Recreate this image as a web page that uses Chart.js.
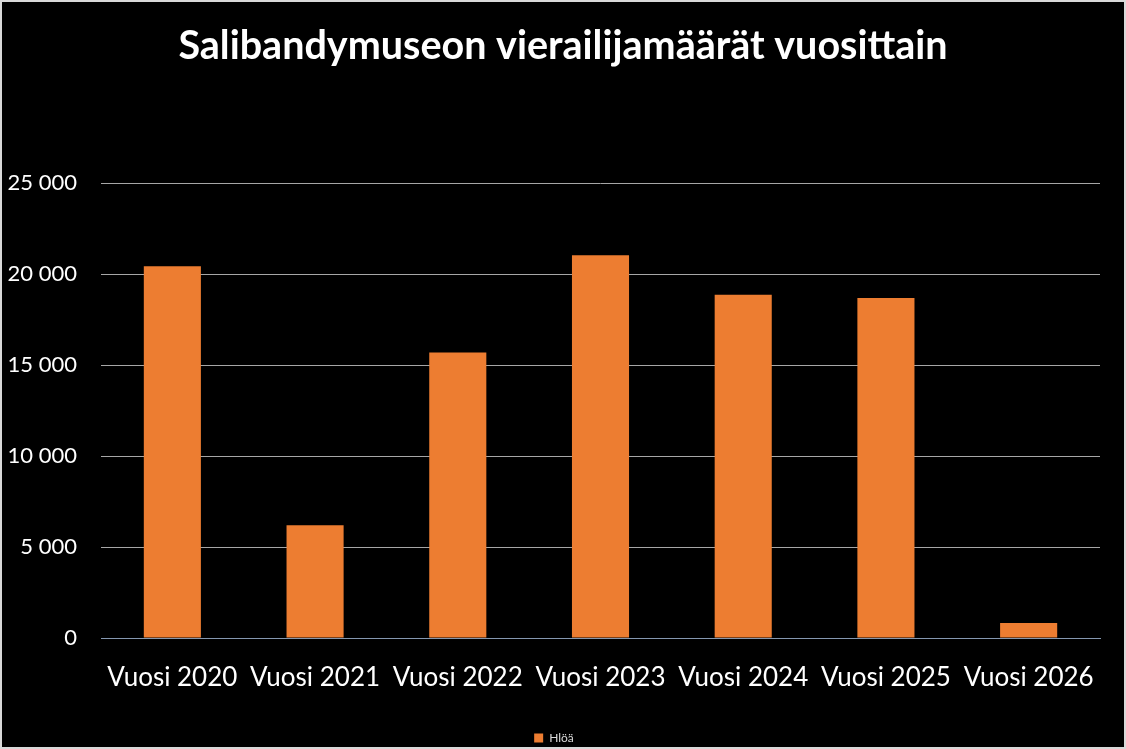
<!DOCTYPE html>
<html>
<head>
<meta charset="utf-8">
<script src="https://cdn.jsdelivr.net/npm/chart.js@4"></script>
<style>
  html, body { margin: 0; padding: 0; background: #d9d9d9; }
  #kehys { width: 1122px; height: 745px; margin: 2px; background: #000; }
</style>
</head>
<body>
<div id="kehys"><canvas id="kaavio" width="1122" height="745"></canvas></div>
<script>
const vuodet = ["Vuosi 2020", "Vuosi 2021", "Vuosi 2022", "Vuosi 2023", "Vuosi 2024", "Vuosi 2025", "Vuosi 2026"];
const kavijat = [20450, 6200, 15700, 21050, 18870, 18700, 830];
const sarjanNimi = "Hlöä";
const otsikko = "Salibandymuseon vierailijamäärät vuosittain";

const fontti = "Lato, 'Open Sans', sans-serif";

function muotoile(arvo) {
  return String(arvo).replace(/\B(?=(\d{3})+(?!\d))/g, " ");
}

// otsikko keskelle koko kuvaa, ei piirtoalueen mukaan
const keskitaOtsikko = {
  id: "keskitaOtsikko",
  afterLayout(chart) {
    if (chart.titleBlock) {
      chart.titleBlock.left = 0;
      chart.titleBlock.right = chart.width;
      chart.titleBlock.width = chart.width;
    }
  }
};

new Chart(document.getElementById("kaavio"), {
  type: "bar",
  data: {
    labels: vuodet,
    datasets: [{
      label: sarjanNimi,
      data: kavijat,
      backgroundColor: "#ED7D31",
      categoryPercentage: 0.4,
      barPercentage: 1
    }]
  },
  options: {
    responsive: false,
    animation: false,
    layout: { padding: { left: 6, right: 24, top: 0, bottom: -7 } },
    plugins: {
      title: {
        display: true,
        text: otsikko,
        color: "#ffffff",
        font: { family: fontti, size: 39.5, weight: "bold" },
        padding: { top: 21, bottom: 113 }
      },
      legend: {
        position: "bottom",
        labels: {
          color: "#d9d9d9",
          font: { family: fontti, size: 12 },
          boxWidth: 9,
          boxHeight: 9,
          padding: 3
        }
      },
      tooltip: { enabled: false }
    },
    scales: {
      x: {
        grid: { display: false, drawTicks: false },
        border: { color: "#8497B0", width: 1 },
        ticks: { color: "#ffffff", font: { family: fontti, size: 26 }, padding: 24, maxRotation: 0 },
        afterFit: s => { s.height = 91; }
      },
      y: {
        min: 0,
        max: 25000,
        grid: { color: "#a6a6a6", drawTicks: false },
        border: { display: false },
        ticks: {
          stepSize: 5000,
          color: "#ffffff",
          font: { family: fontti, size: 22 },
          padding: 24,
          callback: v => muotoile(v)
        },
        afterFit: s => { s.width = 93; }
      }
    }
  },
  plugins: [keskitaOtsikko]
});
</script>
</body>
</html>
